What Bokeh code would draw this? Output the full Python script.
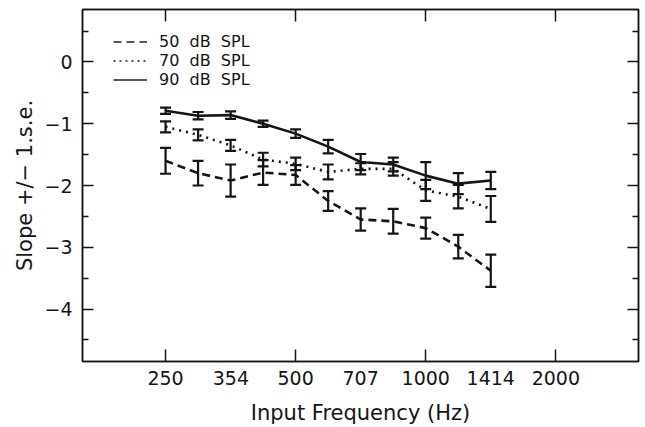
from bokeh.plotting import figure
from bokeh.models import (FixedTicker, LinearAxis, LogAxis, Legend, LegendItem,
                          ColumnDataSource, Whisker, TeeHead, Range1d)
from bokeh.embed import file_html
from bokeh.resources import INLINE

# ---- data ----
freqs = [250, 297.3, 353.6, 420.4, 500, 594.6, 707.1, 840.9, 1000, 1189.2, 1414.2]

spl50_mean = [-1.60, -1.80, -1.92, -1.79, -1.83, -2.25, -2.55, -2.58, -2.69, -2.99, -3.38]
spl50_se = [0.21, 0.20, 0.26, 0.20, 0.16, 0.16, 0.18, 0.20, 0.17, 0.19, 0.26]

spl70_mean = [-1.05, -1.18, -1.35, -1.58, -1.65, -1.78, -1.73, -1.73, -2.08, -2.18, -2.38]
spl70_se = [0.09, 0.09, 0.09, 0.11, 0.10, 0.12, 0.09, 0.11, 0.17, 0.19, 0.21]

spl90_mean = [-0.79, -0.87, -0.86, -1.00, -1.16, -1.37, -1.62, -1.66, -1.84, -1.97, -1.92]
spl90_se = [0.05, 0.06, 0.06, 0.05, 0.07, 0.11, 0.13, 0.11, 0.22, 0.17, 0.14]

series_labels = ["50  dB  SPL", "70  dB  SPL", "90  dB  SPL"]

x_ticks = [250, 354, 500, 707, 1000, 1414, 2000]
x_tick_labels = ["250", "354", "500", "707", "1000", "1414", "2000"]
x_octave_ticks = [250, 500, 1000, 2000]

y_ticks = [0, -1, -2, -3, -4]
y_tick_labels = ["0", "\u22121", "\u22122", "\u22123", "\u22124"]
y_minor_ticks = [0.5, -0.5, -1.5, -2.5, -3.5, -4.5]

FONT = "DejaVu Sans"
INK = "#151515"

p = figure(width=645, height=427, x_axis_type="log",
           x_range=Range1d(160.6, 3107), y_range=Range1d(-4.85, 0.85),
           output_backend="svg", toolbar_location=None,
           min_border_left=82, min_border_right=7, min_border_top=9,
           min_border_bottom=65)
p.xgrid.visible = False
p.ygrid.visible = False
p.outline_line_color = INK
p.outline_line_width = 1.5
p.background_fill_color = "white"
p.border_fill_color = "white"

xtick = FixedTicker(ticks=x_ticks, minor_ticks=x_octave_ticks)
ytick = FixedTicker(ticks=y_ticks, minor_ticks=y_minor_ticks)


def style_x(ax):
    ax.ticker = xtick
    ax.major_tick_in = 0
    ax.major_tick_out = 0
    ax.minor_tick_in = 12
    ax.minor_tick_out = 0
    ax.minor_tick_line_width = 1.5
    ax.minor_tick_line_color = INK
    ax.axis_line_color = INK
    ax.axis_line_width = 1.5


def style_y(ax):
    ax.ticker = ytick
    ax.major_tick_in = 11
    ax.major_tick_out = 0
    ax.minor_tick_in = 6
    ax.minor_tick_out = 0
    ax.major_tick_line_width = 1.5
    ax.minor_tick_line_width = 1.5
    ax.major_tick_line_color = INK
    ax.minor_tick_line_color = INK
    ax.axis_line_color = INK
    ax.axis_line_width = 1.5


# bottom axis
xb = p.xaxis[0]
style_x(xb)
xb.major_label_overrides = {t: s for t, s in zip(x_ticks, x_tick_labels)}
xb.major_label_text_font = FONT
xb.major_label_text_font_size = "19px"
xb.major_label_text_color = INK
xb.major_label_standoff = 9
xb.axis_label = "Input Frequency (Hz)"
xb.axis_label_text_font = FONT
xb.axis_label_text_font_size = "21px"
xb.axis_label_text_font_style = "normal"
xb.axis_label_text_color = INK
xb.axis_label_standoff = 13

# left axis
yl = p.yaxis[0]
style_y(yl)
yl.major_label_overrides = {t: s for t, s in zip(y_ticks, y_tick_labels)}
yl.major_label_text_font = FONT
yl.major_label_text_font_size = "19px"
yl.major_label_text_color = INK
yl.major_label_standoff = 10
yl.axis_label = "Slope +/\u2212 1.s.e."
yl.axis_label_text_font = FONT
yl.axis_label_text_font_size = "21px"
yl.axis_label_text_font_style = "normal"
yl.axis_label_text_color = INK
yl.axis_label_standoff = 4

# top and right axes (ticks only)
xt = LogAxis()
style_x(xt)
xt.major_label_overrides = {t: "" for t in x_ticks}
xt.major_label_standoff = 0
p.add_layout(xt, "above")

yr = LinearAxis()
style_y(yr)
yr.major_label_overrides = {t: "" for t in y_ticks}
yr.major_label_standoff = 0
p.add_layout(yr, "right")

# ---- series ----
series = [
    (spl50_mean, spl50_se, "8 5"),
    (spl70_mean, spl70_se, "2 5"),
    (spl90_mean, spl90_se, "solid"),
]
legend_dash = ["8 5", "2 4", "solid"]

legend_items = []
for (mean, se, dash), ldash, label in zip(series, legend_dash, series_labels):
    src = ColumnDataSource(dict(
        x=freqs, y=mean,
        upper=[m + s for m, s in zip(mean, se)],
        lower=[m - s for m, s in zip(mean, se)],
    ))
    p.line("x", "y", source=src, line_color=INK, line_width=2.6,
           line_dash=dash, line_cap="butt")
    w = Whisker(base="x", upper="upper", lower="lower", source=src,
                line_color=INK, line_width=2.2,
                upper_head=TeeHead(size=11, line_color=INK, line_width=2.2),
                lower_head=TeeHead(size=11, line_color=INK, line_width=2.2))
    p.add_layout(w)
    # thin proxy renderer (draws nothing in the plot) for the legend key
    proxy = p.line(x=[freqs[0], freqs[1]], y=[float("nan"), float("nan")],
                   line_color="#222222", line_width=1.3, line_dash=ldash)
    legend_items.append(LegendItem(label=label, renderers=[proxy]))

legend = Legend(items=legend_items, location=(31, 272),
                glyph_width=34, glyph_height=19, label_height=19,
                label_standoff=12, spacing=0, padding=0, margin=0,
                border_line_alpha=0, background_fill_alpha=0,
                label_text_font=FONT, label_text_font_size="16px",
                label_text_color=INK)
p.add_layout(legend)

open("out.html", "w").write(file_html(p, INLINE))
